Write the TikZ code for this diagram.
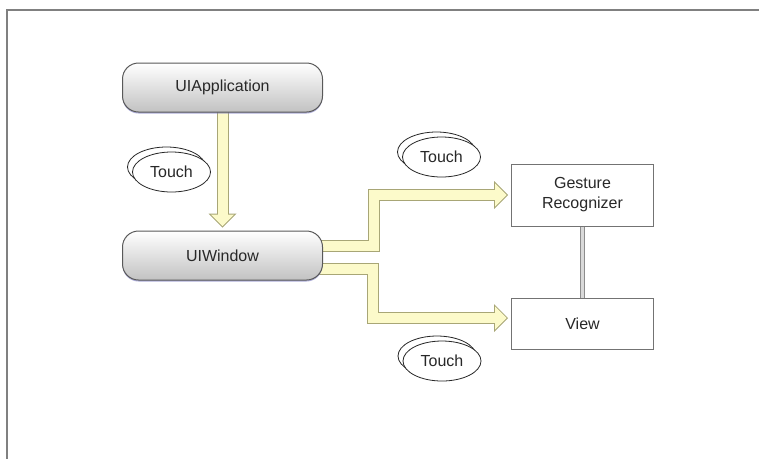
\documentclass[tikz,border=0pt]{standalone}
\usepackage{fontspec}
\setmainfont{Liberation Sans}
\usetikzlibrary{arrows.meta, positioning, shapes.geometric, shadows, backgrounds}
\definecolor{flowfill}{RGB}{252,250,202}
\definecolor{flowedge}{RGB}{168,166,118}
\definecolor{txtgray}{RGB}{40,40,40}
\definecolor{shadeblue}{RGB}{120,120,190}

\begin{document}
\begin{tikzpicture}[
    x=1pt, y=-1pt,
    font=\fontsize{16}{20}\selectfont, text=txtgray,
    pill/.style={rectangle, rounded corners=16pt, draw=black!65, line width=1pt,
                 top color=white, bottom color=black!24,
                 minimum width=200pt, minimum height=49pt,
                 drop shadow={shadow xshift=0pt, shadow yshift=-1.5pt, fill=shadeblue, opacity=0.6}},
    box/.style={rectangle, draw=black!55, line width=1pt, fill=white,
                minimum width=142pt, align=center,
                drop shadow={shadow xshift=0pt, shadow yshift=-1pt, fill=shadeblue, opacity=0.6}},
    touch/.style={ellipse, draw=black!85, line width=0.8pt, fill=white,
                  minimum width=78pt, minimum height=40pt, inner sep=0pt,
                  copy shadow={shadow xshift=-5pt, shadow yshift=5pt, draw=black!85, fill=white, line width=0.8pt}},
    flow/.style={draw=flowedge, line width=12pt,
                 -{Triangle[length=14pt, width=28pt, line width=0pt]},
                 postaction={draw=flowfill, line width=10pt, shorten >=1.4pt,
                             -{Triangle[length=11.6pt, width=23.2pt, line width=0pt]}}},
    link/.style={draw=black!45, line width=1.5pt, double=black!15, double distance=2.5pt},
    frame/.style={draw=black!50, line width=2pt}
]
  \useasboundingbox (0,0) rectangle (759,459);
  \draw[frame] (759,10) -- (7,10) -- (7,459);

  \node[pill] (app) at (222.5,87.5) {UIApplication};
  \node[pill, below=118pt of app] (win) {UIWindow};

  \node[box, minimum height=62pt, above right=4pt and 188pt of win] (gr)   {Gesture\\Recognizer};
  \node[box, minimum height=51pt, below=71pt of gr]                 (view) {View};

  \node[touch] (touchA) at (171.5,172) {Touch};
  \node[touch] (touchB) at (441.5,157) {Touch};
  \node[touch] (touchC) at (442,361)   {Touch};

  \begin{scope}[on background layer]
    \draw[flow] ([yshift=4pt]app.south) -- ([yshift=3pt]win.north);
    \draw[flow] ([xshift=-10pt, yshift=9.5pt]win.east) -- ++(61,0) |- ([xshift=-3pt]gr.west);
    \draw[flow] ([xshift=-10pt, yshift=-13pt]win.east) -- ++(60,0) |- ([xshift=-3pt, yshift=5.5pt]view.west);
  \end{scope}

  \draw[link] (gr) -- (view);
\end{tikzpicture}
\end{document}
